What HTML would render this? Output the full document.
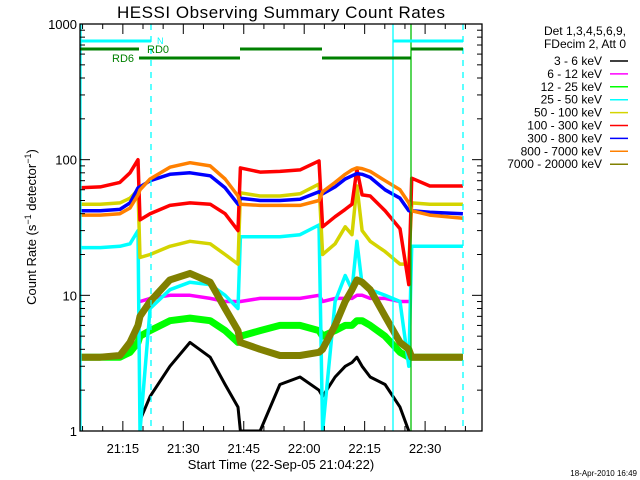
<!DOCTYPE html>
<html><head><meta charset="utf-8"><style>
body{margin:0;background:#fff;}
svg{display:block;font-family:"Liberation Sans",sans-serif;}
</style></head><body>
<svg id="chart" width="640" height="480" viewBox="0 0 640 480" xmlns="http://www.w3.org/2000/svg">
<rect x="0" y="0" width="640" height="480" fill="#fff"/>
<text x="281" y="18" font-size="17" text-anchor="middle" textLength="328">HESSI Observing Summary Count Rates</text>
<g id="plot"></g>
<text transform="translate(36,227) rotate(-90)" font-size="13" text-anchor="middle">Count Rate (s<tspan baseline-shift="super" font-size="9">−1</tspan> detector<tspan baseline-shift="super" font-size="9">−1</tspan>)</text>
<text x="281" y="469" font-size="13" text-anchor="middle">Start Time (22-Sep-05 21:04:22)</text>
<text x="637" y="476" font-size="8" text-anchor="end">18-Apr-2010 16:49</text>
<g id="legend"></g>
</svg>
<script>
const times=[0,5,9.9,12.4,14.4,14.9,17.4,22.3,27.3,32.3,36,39.2,39.8,44.7,49.6,54.6,59.3,60.2,63.3,65.8,67.5,68.7,70,72,75.7,79.4,81.6,82.3,86.8,95];
const bandLabels=["3 - 6 keV","6 - 12 keV","12 - 25 keV","25 - 50 keV","50 - 100 keV","100 - 300 keV","300 - 800 keV","800 - 7000 keV","7000 - 20000 keV"];
const black=[null,null,null,null,null,1.2,1.8,3,4.5,3.5,2.2,1.5,1,1,2.2,2.5,2,1.8,2.5,3,3.2,3.5,3,2.5,2.2,1.5,1,null,null,null];
const magenta=[null,null,null,null,null,9,9.5,10,10,9.5,9,9,9,9.5,9.5,9.5,10,9,9.5,9.5,9.5,10,10,9.5,9.5,9,9,null,null,null];
const green=[3.5,3.5,3.5,3.8,4.5,5,5.5,6.5,6.8,6.5,5.5,4.5,5,5.5,6,6,5.5,5,5.5,6,6,6.5,6.5,6,5,3.8,3.5,3.5,3.5,3.5];
const cyan=[22.5,22.5,23,24,30,1,8,11,12.5,12,10,8,27,27,27,28,33,1,9,14,11,25,12,11,10,9,3,23,23,23];
const yellow=[47,47,48,52,60,19,20,23,25,24,20,17,57,54,54,56,66,20,24,32,28,64,30,25,21,17,17,48,47,47];
const red=[62,63,68,80,100,36,40,46,48,47,40,30,87,81,82,84,98,32,38,43,47,85,55,54,42,31,12,73,64,64];
const blue=[42,42,43,48,62,63,70,78,80,76,62,47,52,50,50,51,58,56,63,72,76,79,78,74,60,52,42,42,41,40];
const orange=[39,39,40,44,55,60,72,88,95,90,72,54,47,46,46,46,50,58,68,78,84,87,86,82,70,60,48,42,39,37];
const olive=[3.5,3.5,3.6,4.5,6,7,9,13,14.5,12.5,8,5.5,4.5,4,3.6,3.6,3.8,4,6,9,11,13,12.5,11,7,4.5,4,3.5,3.5,3.5];
const xTickLabels=["21:15","21:30","21:45","22:00","22:15","22:30"];
const xTickMinutes=[10.633,25.633,40.633,55.633,70.633,85.633];
const yTickLabels=["1","10","100","1000"];
const yTickValues=[1,10,100,1000];

const X0=80,X1=482,Y0=24,Y1=431;
const xs=t=>X0+t*4.03;
const ys=v=>Y1-(Y1-Y0)/3*Math.log10(Math.max(v,1));
const NS="http://www.w3.org/2000/svg";
const plot=document.getElementById('plot');
function mk(tag,attrs,parent){const e=document.createElementNS(NS,tag);for(const k in attrs)e.setAttribute(k,attrs[k]);(parent||plot).appendChild(e);return e;}

const defs=mk('defs',{});
const cp=mk('clipPath',{id:'clip'},defs);
mk('rect',{x:X0,y:Y0,width:X1-X0,height:Y1-Y0},cp);

const series=[[black,'#000',3],[magenta,'#ff00ff',3.5],[green,'#00ff00',7],[cyan,'#00ffff',3.5],[yellow,'#d4d400',3.5],[red,'#ff0000',3.5],[blue,'#0000ff',3.5],[orange,'#ff8000',3.5],[olive,'#808000',7]];
const sg=mk('g',{'clip-path':'url(#clip)'});
const snames=['series-3-6kev','series-6-12kev','series-12-25kev','series-25-50kev','series-50-100kev','series-100-300kev','series-300-800kev','series-800-7000kev','series-7000-20000kev'];
series.forEach((s,i)=>{
  let d='',pen=false;
  s[0].forEach((v,j)=>{if(v==null){pen=false;return;}d+=(pen?'L':'M')+xs(times[j]).toFixed(1)+','+ys(v).toFixed(1);pen=true;});
  const p=mk('path',{d:d,fill:'none',stroke:s[1],'stroke-width':s[2],'stroke-linejoin':'round'},sg);
  
  
});

function vline(x,color,dash,name){const l=mk('line',{x1:x,x2:x,y1:Y0,y2:Y1,stroke:color,'stroke-width':1.3});if(dash)l.setAttribute('stroke-dasharray','6,6');
  
  }
vline(81,'#00ffff',false,'saa-start-line');
vline(151,'#00ffff',true,'night-end-line');
vline(393,'#00ffff',false,'night-start-line');
vline(411,'#00c000',false,'attenuator-line');
vline(463,'#00ffff',true,'data-end-line');

function bar(x1,x2,y,color,name){const l=mk('line',{x1:x1,x2:x2,y1:y,y2:y,stroke:color,'stroke-width':3});
  
  }
bar(80,151,41,'#00ffff','night-bar');bar(393,463,41,'#00ffff','night-bar');
bar(80,139,49,'#008000','rd0-bar');bar(240,322,49,'#008000','rd0-bar');bar(411,463,49,'#008000','rd0-bar');
bar(139,240,58,'#008000','rd6-bar');bar(322,411,58,'#008000','rd6-bar');
function lbl(x,y,t,c,name,sz){const e=mk('text',{x:x,y:y,fill:c,'font-size':sz||11});e.textContent=t;
  
  }
lbl(157,44,'N','#00ffff','night-label',9);
lbl(147,53,'RD0','#008000','rd0-label');
lbl(112,62,'RD6','#008000','rd6-label');

mk('rect',{x:X0,y:Y0,width:X1-X0,height:Y1-Y0,fill:'none',stroke:'#000','stroke-width':1.3});

for(let m=-5;m<=100;m+=5){const t=m+0.633;const x=xs(t);if(x<X0||x>X1)continue;const major=(m%15===10)||(m%15===-5);
  const L=major?10:5;
  mk('line',{x1:x,x2:x,y1:Y1,y2:Y1-L,stroke:'#000'});mk('line',{x1:x,x2:x,y1:Y0,y2:Y0+L,stroke:'#000'});}
xTickLabels.forEach((s,i)=>{const e=mk('text',{x:xs(xTickMinutes[i]),y:453,'font-size':13,'text-anchor':'middle'});e.textContent=s;
  
  });
for(let d=0;d<3;d++)for(let k=1;k<=9;k++){const v=k*Math.pow(10,d);const y=ys(v);const L=k===1?10:5;
  mk('line',{x1:X0,x2:X0+L,y1:y,y2:y,stroke:'#000'});mk('line',{x1:X1,x2:X1-L,y1:y,y2:y,stroke:'#000'});}
yTickLabels.forEach((s,i)=>{const e=mk('text',{x:77,y:ys(yTickValues[i])+5,'font-size':13,'text-anchor':'end'});e.textContent=s;
  
  });

const lg=document.getElementById('legend');
const colors=['#000','#ff00ff','#00ff00','#00ffff','#d4d400','#ff0000','#0000ff','#ff8000','#808000'];
function lt(y,t,name){const e=mk('text',{x:626,y:y,'font-size':12,'text-anchor':'end'},lg);e.textContent=t;
  
  }
lt(35,'Det 1,3,4,5,6,9,','legend-detectors');
lt(48,'FDecim 2, Att 0','legend-settings');
bandLabels.forEach((s,i)=>{const y=65+i*12.9;
  const e=mk('text',{x:602,y:y,'font-size':12,'text-anchor':'end'},lg);e.textContent=s;
  
  
  mk('line',{x1:610,x2:628,y1:y-4,y2:y-4,stroke:colors[i],'stroke-width':1.5},lg);});
</script>
</body></html>
